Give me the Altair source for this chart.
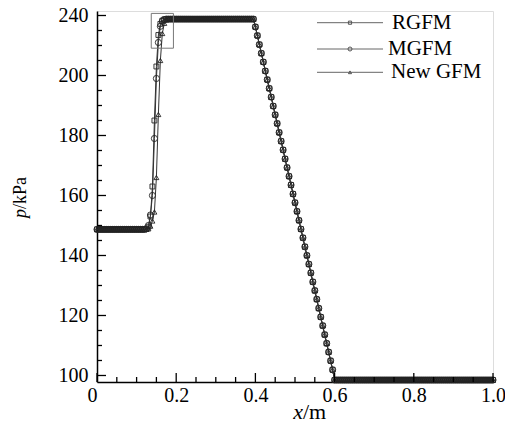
import altair as alt
import pandas as pd

# ---------------- data ----------------
X_STEP = 0.005          # grid spacing (marker spacing)
N_CELLS = 200
LEFT_P = 148.7          # left constant state
PLATEAU_P = 218.8       # post-shock plateau
RIGHT_P = 98.5          # right constant state

# shock region, x = 0.120 ... 0.180 (indices 24..36)
SHOCK_START = 24
RGFM_SHOCK = [148.7, 148.9, 149.6, 153.0, 163.0, 185.0, 203.0, 213.5, 217.2, 218.3, 218.7, 218.8, 218.8]
MGFM_SHOCK = [148.7, 148.9, 150.0, 153.5, 160.0, 179.0, 199.0, 211.0, 216.4, 218.1, 218.6, 218.8, 218.8]
NEWGFM_SHOCK = [148.7, 148.7, 148.9, 149.8, 151.5, 154.5, 166.0, 187.0, 205.0, 214.0, 217.4, 218.5, 218.8]

# rarefaction fan, x = 0.400 ... 0.595 (indices 80..119)
FAN_START = 80
FAN_P = [216.2, 213.3, 210.3, 207.4, 204.5, 201.5, 198.6, 195.7, 192.8, 189.8,
         186.9, 184.0, 181.0, 178.1, 175.2, 172.2, 169.3, 166.4, 163.5, 160.5,
         157.6, 154.7, 151.7, 148.8, 145.9, 142.9, 140.0, 137.1, 134.2, 131.2,
         128.3, 125.4, 122.4, 119.5, 116.6, 113.6, 110.7, 107.8, 104.9, 101.9]

METHODS = ["RGFM", "MGFM", "New GFM"]
SHOCKS = [RGFM_SHOCK, MGFM_SHOCK, NEWGFM_SHOCK]
SHAPES = ["square", "circle", "triangle-up"]

X_MAJOR = [0.0, 0.2, 0.4, 0.6, 0.8, 1.0]
X_MINOR = [0.05, 0.1, 0.15, 0.25, 0.3, 0.35, 0.45, 0.5, 0.55, 0.65, 0.7, 0.75, 0.85, 0.9, 0.95]
Y_MAJOR = [100, 120, 140, 160, 180, 200, 220]
Y_MINOR = [105, 110, 115, 125, 130, 135, 145, 150, 155, 165, 170, 175, 185, 190, 195, 205, 210, 215]

BOX = {"x": [0.137], "x2": [0.193], "y": [209.1], "y2": [220.7]}

# ---------------- build table ----------------
rows = []
for name, shock in zip(METHODS, SHOCKS):
    for i in range(N_CELLS + 1):
        x = round(i * X_STEP, 3)
        if i < SHOCK_START:
            p = LEFT_P
        elif i < SHOCK_START + len(shock):
            p = shock[i - SHOCK_START]
        elif i < FAN_START:
            p = PLATEAU_P
        elif i < FAN_START + len(FAN_P):
            p = FAN_P[i - FAN_START]
        else:
            p = RIGHT_P
        rows.append({"x": x, "p": p, "method": name})
df = pd.DataFrame(rows)

W, H = 396, 371
FONT = "Liberation Serif"
xs = alt.Scale(domain=[0, 1], nice=False, zero=False)
ys = alt.Scale(domain=[97.83, 221.5], nice=False, zero=False)

x_axis = alt.Axis(values=X_MAJOR, ticks=False, tickSize=0, grid=False,
                  labelExpr="datum.value == 0 ? '0' : format(datum.value, '.1f')",
                  labelAlign=alt.ExprRef(expr="datum.value == 0 ? 'right' : 'center'"),
                  labelFont=FONT, labelFontSize=20, labelColor="black", labelPadding=3,
                  labelFlush=False, domainColor="black", domainWidth=1.5, title=None)
y_axis = alt.Axis(values=Y_MAJOR, ticks=False, tickSize=0, grid=False,
                  labelExpr="datum.value == 220 ? '240' : datum.label",
                  labelFont=FONT, labelFontSize=20, labelColor="black", labelPadding=9,
                  labelFlush=False, domainColor="black", domainWidth=1.5, title=None)

base = alt.Chart(df)
layers = []
for name, shape in zip(METHODS, SHAPES):
    sub = base.transform_filter(alt.datum.method == name)
    layers.append(sub.mark_line(color="#333", strokeWidth=1).encode(
        x=alt.X("x:Q", scale=xs, axis=x_axis), y=alt.Y("p:Q", scale=ys, axis=y_axis)))
    size = 38 if shape == "circle" else 24
    layers.append(sub.mark_point(shape=shape, filled=False, color="#222", strokeWidth=0.9,
                                 size=size, opacity=1).encode(x="x:Q", y="p:Q"))

# inset box
layers.append(alt.Chart(pd.DataFrame(BOX)).mark_rect(fill=None, stroke="#777", strokeWidth=1).encode(
    x="x:Q", x2="x2:Q", y="y:Q", y2="y2:Q"))

# inward ticks
def xticks(vals, length):
    return alt.Chart(pd.DataFrame({"v": vals})).mark_rule(color="black", strokeWidth=1.3).encode(
        x="v:Q", y=alt.value(H), y2=alt.value(H - length))

def yticks(vals, length):
    return alt.Chart(pd.DataFrame({"v": vals})).mark_rule(color="black", strokeWidth=1.3).encode(
        y="v:Q", x=alt.value(0), x2=alt.value(length))

layers += [xticks(X_MAJOR, 9), xticks(X_MINOR, 5), yticks(Y_MAJOR, 9), yticks(Y_MINOR, 5)]

# legend (drawn manually: line + marker + label)
one = pd.DataFrame({"a": [0]})
LEG = [("RGFM", "square", 11.7, 295), ("MGFM", "circle", 38, 291), ("New GFM", "triangle-up", 61.3, 294)]
for label, shape, ly, tx in LEG:
    c = alt.Chart(one)
    layers.append(c.mark_rule(color="#666", strokeWidth=1).encode(
        x=alt.value(220), x2=alt.value(286), y=alt.value(ly)))
    layers.append(c.mark_point(shape=shape, filled=False, color="#555", strokeWidth=1,
                               size=16 if shape == "circle" else 10, opacity=1).encode(
        x=alt.value(253), y=alt.value(ly)))
    layers.append(c.mark_text(text=label, font=FONT, fontSize=21, align="left",
                              baseline="middle", color="black").encode(
        x=alt.value(tx), y=alt.value(ly)))

# axis titles with italic variable
layers.append(alt.Chart(one).mark_text(text="x", font=FONT, fontSize=22, fontStyle="italic",
                                       align="right", baseline="alphabetic", color="black").encode(
    x=alt.value(206), y=alt.value(408)))
layers.append(alt.Chart(one).mark_text(text="/m", font=FONT, fontSize=22, align="left",
                                       baseline="alphabetic", color="black").encode(
    x=alt.value(206), y=alt.value(408)))
layers.append(alt.Chart(one).mark_text(text="p", font=FONT, fontSize=18, fontStyle="italic", angle=270,
                                       align="right", baseline="alphabetic", color="black").encode(
    x=alt.value(-71), y=alt.value(198)))
layers.append(alt.Chart(one).mark_text(text="/kPa", font=FONT, fontSize=18, angle=270,
                                       align="left", baseline="alphabetic", color="black").encode(
    x=alt.value(-71), y=alt.value(198)))

chart = alt.layer(*layers).properties(
    width=W, height=H,
    autosize=alt.AutoSizeParams(type="none"),
    padding={"left": 89, "top": 3, "right": 12, "bottom": 44},
).configure_view(stroke=None).configure(background="white")

chart.save("out.html", embed_options={"renderer": "svg", "actions": False})
